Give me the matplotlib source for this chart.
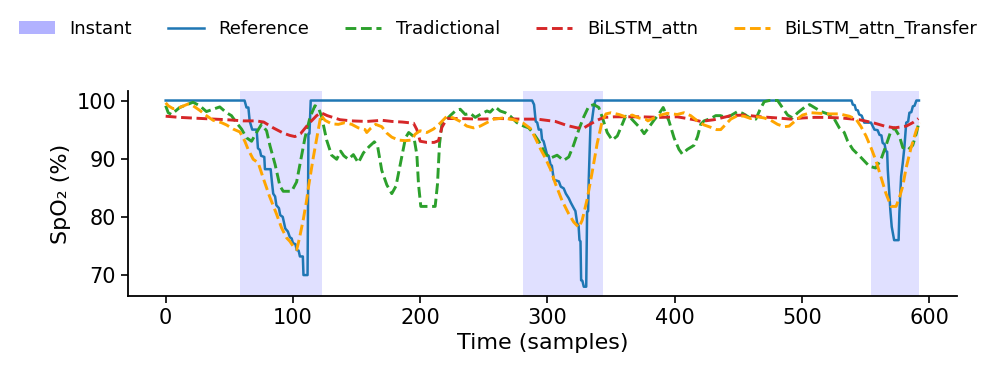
import numpy as np
from matplotlib import pyplot as plt
from matplotlib.patches import Patch

# (sample, SpO2) points
reference = [(0, 100), (62, 100), (63.5, 98.8), (65, 98.8), (66, 96.5), (68, 95), (71.5, 95), (72.5, 91.8),
             (74, 91.5), (75, 90.5), (77.5, 90.3), (78, 88.2), (82.5, 88.2), (83.5, 86), (84.5, 84), (86, 83.5),
             (87, 82), (89, 81.5), (90, 80.3), (92, 80), (94, 78), (96, 77.5), (97.6, 76.5), (99, 76.3),
             (100, 75.5), (102, 75.3), (103, 74.3), (104.5, 74.2), (105.5, 73.2), (107.8, 73.2), (108.3, 70),
             (111.5, 70), (112.2, 94.3), (113, 94.3), (114, 100), (288, 100), (289.5, 99.3), (290.8, 96.4),
             (292, 96.2), (293.2, 95), (295, 95), (295.8, 93.3), (297, 93), (299.7, 90.7), (301, 90.5),
             (302.4, 89), (303.5, 88.8), (305, 86.4), (309, 86.1), (310.5, 85.2), (312.8, 84.9), (314.5, 84),
             (316.8, 83.2), (318.5, 82.4), (320.7, 81.5), (322, 81), (323.4, 78.9), (324.5, 78.5), (325.2, 76),
             (326, 75.8), (326.5, 69.1), (327.5, 69), (328.6, 68), (330.5, 68), (331.2, 80.9), (332, 81),
             (332.5, 86.4), (333.9, 96.2), (335, 96.5), (336.5, 99), (337.8, 100), (539, 100), (540, 99.3),
             (541.5, 99.2), (542.5, 98.4), (544, 98.3), (545, 97.6), (547, 97.4), (549, 96.2), (554.3, 96.2),
             (557, 95), (559.5, 94.9), (561, 94.1), (562.5, 94), (563.5, 92.7), (565, 92.5), (566, 91.3),
             (567, 91.2), (567.5, 88.1), (569.5, 81.2), (570.6, 78.3), (572.5, 76), (576, 76), (576.6, 80.6),
             (578, 87), (579.3, 89.3), (580.6, 92.1), (582, 96.2), (583.5, 96.4), (584.5, 97.9), (586, 98),
             (587.2, 99), (588.5, 99.1), (590, 100), (592, 100)]

tradictional = [(0, 99.1), (2, 97.9), (4.5, 97.6), (11, 98.8), (21.5, 99.7), (26.8, 99.1), (32, 98.1), (37.3, 98.5),
                (42.5, 98.9), (47.8, 97.9), (51.7, 97.4), (55.6, 96.2), (59.6, 95.1), (63.5, 93.6), (67.5, 93),
                (71.4, 94.5), (75.3, 95.9), (79.3, 94.8), (82, 92.2), (86, 89), (89.8, 85.3), (92.4, 84.4),
                (99, 84.4), (102.9, 86), (105.5, 89), (109.4, 93.5), (113.4, 97.1), (117.3, 99.1), (120, 98.8),
                (122.6, 97.2), (126.5, 93.2), (130.4, 90.6), (134.4, 89.9), (137.5, 91.3), (140, 90.5),
                (143.6, 89.9), (147.5, 90.7), (151.4, 89.3), (155.4, 91), (160, 92.1), (164, 92.9), (166.5, 92.2),
                (169.8, 88), (173.8, 85.5), (177.7, 84), (181, 85.3), (185, 89.7), (188.5, 93.6), (191, 94.5),
                (195, 93.8), (197.4, 90.7), (198.7, 85.6), (200.5, 81.8), (211.8, 81.8), (213.6, 85.6),
                (215.2, 92.5), (217.1, 95.9), (223.6, 97.4), (227.6, 98.2), (231.5, 98.5), (235.4, 97.6),
                (239.4, 97.8), (243.3, 97.1), (247.2, 97.6), (252.5, 98.2), (255, 98), (259, 98.9), (262.9, 98.2),
                (266.9, 97.9), (270.9, 97.3), (276, 96.2), (281.4, 95.6), (285.3, 95.3), (289.2, 94.3),
                (293.2, 93), (298.4, 90.8), (302.4, 90.1), (307.6, 90.6), (312.8, 89.7), (316.8, 90.3),
                (320.5, 92.3), (324.7, 95), (328.6, 97.2), (332.5, 99), (336.5, 99.3), (340.4, 98.8), (343, 97.2),
                (347, 94.5), (350.9, 93.2), (354.9, 93.9), (358.8, 95.9), (361.4, 97.3), (365.4, 97), (369.3, 96.1),
                (373.2, 95.2), (376, 94.3), (379.8, 95.4), (383.7, 96.6), (387.7, 97.7), (391, 98.8), (395.5, 96.5),
                (399.5, 93.6), (403.4, 91.6), (406, 90.8), (410, 91.6), (415.2, 92.3), (418, 93.8), (420.5, 95.9),
                (423.1, 96.5), (428.3, 96.9), (432.3, 97.4), (436, 97.4), (440.2, 97.1), (444, 97.4), (449.4, 98.1),
                (453.4, 97.8), (458.6, 97.1), (463.8, 96.8), (467, 98.4), (470.4, 99.8), (474.4, 100), (480.9, 100),
                (484, 99), (488.8, 97.5), (492.7, 97), (496.7, 97.9), (501.9, 98.8), (506, 99.3), (509.8, 98.8),
                (515.1, 98.1), (519, 97.8), (524, 97.4), (529.4, 95.3), (533.3, 94.5), (536, 93), (540, 91.6),
                (546.5, 90.2), (553, 88.7), (558, 88.4), (562.2, 89.9), (566, 92.2), (570, 94.8), (572.7, 95.3),
                (576.6, 93.9), (579.3, 91.9), (583.2, 91.5), (587.1, 92.3), (590, 94.4), (592, 96.3)]

bilstm_attn = [(0, 97.3), (11, 97.1), (29, 96.9), (48, 96.7), (61, 96.5), (71, 96.5), (77, 96.3), (84.5, 95.3),
               (92.4, 94.4), (97.6, 94), (101.6, 93.8), (106, 94.3), (112, 95.9), (118.6, 97.4), (122, 97.9),
               (127, 97.4), (137, 96.7), (146, 96.5), (158, 96.4), (170, 96.6), (178, 96.4), (186, 96.3),
               (194.8, 96.1), (197.4, 95), (200, 93), (205.3, 92.8), (211, 92.8), (214.4, 93.1), (217.1, 95.4),
               (221, 96.9), (231.5, 96.9), (247, 96.8), (263, 96.9), (279, 96.8), (292, 96.8), (306.3, 96.4),
               (315.5, 95.7), (323.4, 95.3), (328, 95.2), (332.5, 95.8), (339, 96.6), (344.4, 97.1), (353, 97.2),
               (373, 97.2), (389, 97.1), (402, 97.2), (407.3, 97), (415.2, 96.7), (420.5, 96.4), (431, 96.7),
               (444.1, 97.4), (454.6, 97.5), (467.7, 97.2), (480.9, 97), (491.3, 96.8), (500.5, 97), (509.8, 97.1),
               (519, 97.1), (531, 97), (545, 96.7), (555.7, 96.2), (565, 95.6), (572.8, 95.3), (582, 95.6),
               (587.2, 96.2), (591.5, 96.9)]

bilstm_attn_transfer = [(0, 99.6), (2, 99.1), (5.8, 98.6), (11, 98.8), (17.6, 99.4), (21.5, 99.1), (26.8, 98.3),
                        (32, 97.4), (37.3, 96.6), (43.8, 96.2), (47.8, 95.8), (53, 95.1), (58.3, 94.6), (62.2, 93),
                        (64.8, 91.6), (68.8, 89.9), (72.7, 89.3), (76.6, 86.7), (81.5, 83.6), (87.1, 80.5),
                        (91.1, 78.1), (95, 76.4), (97.6, 75.8), (101.6, 74.5), (103, 74.4), (105, 76.2),
                        (108.1, 79.5), (110.5, 82.5), (112.5, 85.5), (116, 90.2), (119.9, 95), (122, 97.5),
                        (125.2, 96.6), (130.4, 96), (135.7, 95.9), (140.9, 96.2), (146.2, 95.9), (151.4, 95.3),
                        (156.7, 95), (158, 94.5), (161, 95.2), (165, 95.9), (169.8, 95.5), (173.8, 94.4),
                        (177.7, 93.7), (183, 93.2), (188.2, 93.1), (193.4, 93.2), (196, 94.2), (200, 94.8),
                        (205.3, 94.5), (210.5, 95.1), (215.7, 96.1), (221, 97.3), (226.2, 97), (231.5, 96.4),
                        (236.7, 95.6), (241.9, 95.3), (247.2, 95.6), (252.5, 96.2), (257.7, 96.8), (265.6, 97),
                        (273.5, 96.7), (281, 96.1), (286.6, 95.2), (290.6, 93.5), (294.5, 91.7), (298.4, 90.1),
                        (302.4, 88.2), (306.3, 85.7), (311.5, 82.8), (316.8, 80.5), (320.7, 79.1), (324.7, 78.2),
                        (327.3, 79.4), (331.2, 83), (335.2, 87.7), (339.1, 92.6), (343, 96.4), (346, 97.7),
                        (350, 97.9), (356.2, 97.6), (361.4, 97.2), (366.7, 97.5), (371.9, 97), (377.2, 96.8),
                        (379, 96.5), (383.7, 97), (389, 97.5), (394.2, 97.8), (402, 97.6), (407.3, 97.9),
                        (412.6, 97.4), (417.8, 96.5), (423.1, 95.8), (428.3, 95.4), (433, 95), (436.2, 95),
                        (440.2, 95.9), (444.1, 96.8), (449.4, 97.4), (454.6, 97.3), (459.8, 96.9), (465.1, 97.2),
                        (470.4, 97), (475.6, 96.6), (480.9, 95.9), (486.2, 95.5), (490, 95.6), (495.3, 96.6),
                        (500.5, 97.5), (507.1, 97.9), (513.6, 97.8), (521.5, 97.7), (529.4, 97.7), (537.3, 97.3),
                        (542.5, 96.8), (546.5, 95.5), (550.4, 93.9), (554.3, 91.9), (558.3, 89.6), (562.2, 86.8),
                        (566.1, 84), (570.1, 81.8), (574, 81.8), (576.6, 83.3), (579.3, 85.3), (581.9, 88.4),
                        (585.8, 91.9), (589.8, 94.8), (592.4, 96.2)]

# desaturation events (start, end) in samples
instant_spans = [(58.3, 123.2), (280.9, 343.8), (554.3, 591.9)]

series = [
    ('Reference', reference, '#1f77b4', '-', 1.8),
    ('Tradictional', tradictional, '#2ca02c', '--', 2.1),
    ('BiLSTM_attn', bilstm_attn, '#d62728', '--', 2.1),
    ('BiLSTM_attn_Transfer', bilstm_attn_transfer, 'orange', '--', 2.1),
]

plt.rcParams['axes.linewidth'] = 1.3

fig = plt.figure(figsize=[9.96, 3.8], dpi=100)
ax = fig.add_axes([0.1285, 0.221, 0.8325, 0.539])

for start, end in instant_spans:
    ax.axvspan(start, end, color='blue', alpha=0.12, lw=0, zorder=0)

handles = [Patch(facecolor='blue', alpha=0.3, lw=0, label='Instant')]
for label, pts, color, ls, lw in series:
    x, y = np.array(pts).T
    line, = ax.plot(x, y, ls, color=color, lw=lw, label=label)
    handles.append(line)

ax.set_xlabel('Time (samples)', fontsize=16)
ax.set_ylabel('SpO₂ (%)', fontsize=16)
ax.set_xticks([0, 100, 200, 300, 400, 500, 600])
ax.set_yticks([70, 80, 90, 100])
ax.tick_params(labelsize=15, length=5, width=1.2)
ax.spines['top'].set_visible(False)
ax.spines['right'].set_visible(False)

fig.legend(handles=handles, loc='upper center', bbox_to_anchor=(0.5, 0.99), ncol=5,
           frameon=False, fontsize=13)

fig.savefig('out.png', dpi=100)
